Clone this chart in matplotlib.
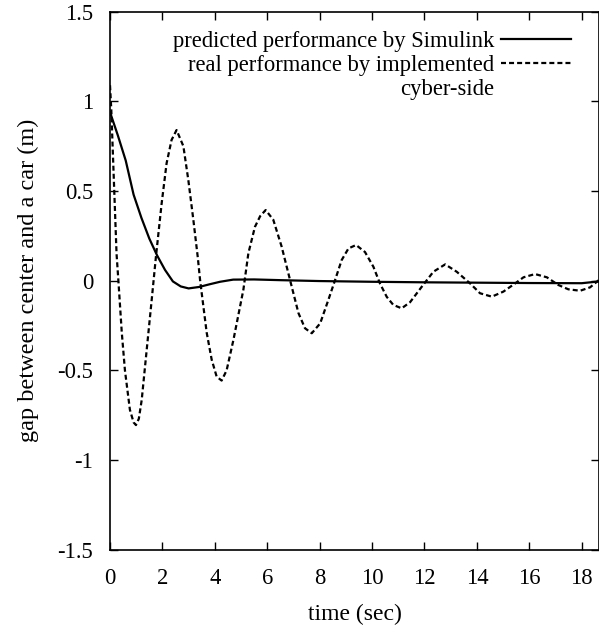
import matplotlib
matplotlib.use("Agg")
import matplotlib.pyplot as plt
from matplotlib.lines import Line2D

# predicted (Simulink) response
t_pred = [0, 0.3, 0.6, 0.9, 1.2, 1.5, 1.8, 2.1, 2.4, 2.7, 3.0, 3.4, 3.8, 4.2,
          4.7, 5.5, 6.5, 8, 10, 12, 14, 16, 18, 18.66]
y_pred = [0.94, 0.81, 0.67, 0.48, 0.35, 0.235, 0.14, 0.06, -0.004, -0.032,
          -0.043, -0.035, -0.02, -0.006, 0.006, 0.007, 0.003, -0.002, -0.006,
          -0.009, -0.011, -0.013, -0.014, -0.004]

# real (cyber-side) response
t_real = [0, 0.05, 0.15, 0.25, 0.32, 0.45, 0.57, 0.76, 0.9, 0.99, 1.1, 1.21,
          1.4, 1.59, 1.75, 1.97, 2.16, 2.35, 2.54, 2.8, 2.99, 3.18, 3.35, 3.44,
          3.69, 3.88, 4.07, 4.26, 4.45, 4.71, 5.09, 5.28, 5.53, 5.73, 5.94,
          6.23, 6.55, 6.87, 7.19, 7.44, 7.7, 8.02, 8.33, 8.59, 8.84, 9.1, 9.39,
          9.73, 10.05, 10.3, 10.56, 10.81, 11.13, 11.45, 11.9, 12.34, 12.79,
          13.23, 13.74, 14.12, 14.57, 15.01, 15.46, 15.78, 16.22, 16.67, 17.11,
          17.49, 17.94, 18.32, 18.66]
y_real = [1.09, 0.95, 0.55, 0.15, 0.0, -0.29, -0.5, -0.72, -0.79, -0.805,
          -0.77, -0.665, -0.386, -0.108, 0.13, 0.43, 0.655, 0.785, 0.84, 0.75,
          0.56, 0.34, 0.13, 0.0, -0.29, -0.44, -0.535, -0.557, -0.5, -0.33,
          -0.05, 0.153, 0.30, 0.36, 0.394, 0.34, 0.19, 0.004, -0.18, -0.265,
          -0.293, -0.238, -0.108, 0.004, 0.115, 0.18, 0.199, 0.16, 0.078,
          -0.015, -0.09, -0.135, -0.154, -0.12, -0.033, 0.05, 0.091, 0.05,
          -0.015, -0.07, -0.089, -0.061, -0.015, 0.019, 0.037, 0.019, -0.024,
          -0.048, -0.056, -0.037, 0.004]

x_ticks = [0, 2, 4, 6, 8, 10, 12, 14, 16, 18]
y_ticks = [-1.5, -1, -0.5, 0, 0.5, 1, 1.5]
y_tick_labels = ["-1.5", "-1", "-0.5", "0", "0.5", "1", "1.5"]

labels = ["predicted performance by Simulink",
          "real performance by implemented",
          "cyber-side"]

plt.rcParams["font.family"] = ["Liberation Serif", "DejaVu Serif"]
plt.rcParams["lines.scale_dashes"] = False
FS = 16.3

fig = plt.figure(figsize=(5.99, 6.30), dpi=100)
ax = fig.add_axes([110 / 599, 1 - 549.7 / 630, 489 / 599, 538 / 630])

lw = 1.6
ax.plot(t_pred, y_pred, color="black", lw=lw, solid_joinstyle="round")
ax.plot(t_real, y_real, color="black", lw=lw, dashes=(3.6, 2.2))

ax.set_xlim(0, 18.66)
ax.set_ylim(-1.5, 1.5)
ax.set_xticks(x_ticks)
ax.set_yticks(y_ticks)
ax.set_yticklabels(y_tick_labels)
ax.tick_params(direction="in", length=6, width=1, top=True, right=True,
               labelsize=FS)
ax.tick_params(axis="x", pad=13)
ax.tick_params(axis="y", pad=12)
for s in ax.spines.values():
    s.set_linewidth(1.2)

ax.set_xlabel("time (sec)", fontsize=FS + 0.7, labelpad=11)
ax.set_ylabel("gap between center and a car (m)", fontsize=17.5, labelpad=13)

handles = [Line2D([], [], color="black", lw=lw),
           Line2D([], [], color="black", lw=lw, dashes=(3.6, 2.2)),
           Line2D([], [], color="none", lw=0)]
ax.legend(handles, labels, loc="upper right", bbox_to_anchor=(0.9425, 0.965),
          frameon=False, markerfirst=False, fontsize=FS, handlelength=3.1,
          handletextpad=0.3, labelspacing=0.15, borderpad=0, borderaxespad=0)

fig.savefig("out.png", dpi=100)
